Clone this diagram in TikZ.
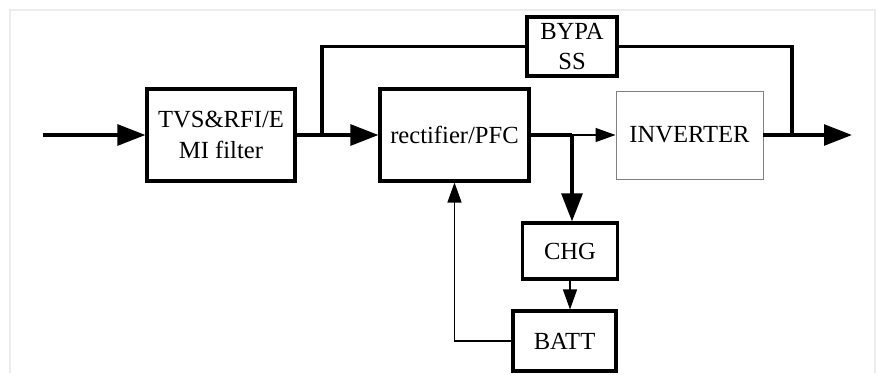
\documentclass[tikz,border=0pt]{standalone}
\usepackage{fontspec}
\setmainfont{Liberation Serif}
\usetikzlibrary{arrows.meta}

\tikzstyle{block} = [draw, line width = 2.6pt, align = center, font = \fontsize{21}{26}\selectfont, inner sep = 0pt]
\tikzstyle{thinblock} = [draw = gray, line width = 0.8pt, align = center, font = \fontsize{21}{26}\selectfont, inner sep = 0pt]
\tikzstyle{power} = [line width = 3.2pt]
\tikzstyle{bigarrow} = [line width = 3.2pt, -{Triangle[length = 0.84cm, width = 0.62cm]}]
\tikzstyle{smallarrow} = [line width = 1.1pt, -{Triangle[length = 0.6cm, width = 0.42cm]}]

\begin{document}
\begin{tikzpicture}[x = 0.3mm, y = -0.3mm]
      \useasboundingbox (0, 0) rectangle (877, 374);
      \draw[gray!15, line width = 1pt] (10, 373) -- (10, 10) -- (875, 10) -- (875, 373);

      % Blocks
      \node[block, minimum width = 4.44cm, minimum height = 2.76cm] (tvs) at (221, 135) {TVS\&RFI/E\\MI filter};
      \node[block, minimum width = 4.47cm, minimum height = 2.76cm] (rect) at (454.5, 135) {rectifier/PFC};
      \node[block, minimum width = 2.7cm, minimum height = 1.77cm] (bypass) at (572, 46.5) {BYPA\\SS};
      \node[thinblock, minimum width = 4.41cm, minimum height = 2.64cm] (inv) at (689.5, 135) {INVERTER};
      \node[block, minimum width = 2.85cm, minimum height = 1.68cm] (chg) at (570, 251) {CHG};
      \node[block, minimum width = 3.09cm, minimum height = 1.8cm] (batt) at (564.5, 341) {BATT};

      % Junctions
      \coordinate (in) at (43, 135);
      \coordinate (split) at (322, 135);
      \coordinate (tap) at (572, 135);
      \coordinate (merge) at (792, 135);
      \coordinate (out) at (852, 135);

      % Main path
      \draw[bigarrow] (in) -- (tvs);
      \draw[power] (tvs) -- (split);
      \draw[bigarrow] (split) -- (rect);
      \draw[power] (rect) -- (tap);
      \draw[smallarrow] (tap) -- (inv);
      \draw[power] (inv) -- (merge);
      \draw[bigarrow] (merge) -- (out);

      % Bypass path
      \draw[power] (split) |- (bypass);
      \draw[power] (bypass) -| (merge);

      % Charger and battery
      \draw[bigarrow] (tap) -- (tap |- chg.north);
      \draw[smallarrow] (chg) -- (chg |- batt.north);
      \draw[smallarrow] (batt) -| (rect);
    \end{tikzpicture}
\end{document}
